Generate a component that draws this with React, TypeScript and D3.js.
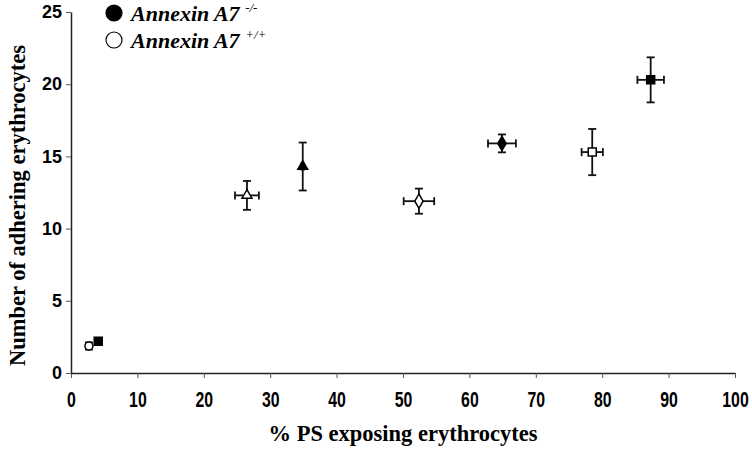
import React, { useEffect, useRef } from 'react';
import * as d3 from 'd3';

// mean % PS exposing, mean adhering count, and their SEMs
const labels = ['c-open', 'sq-fill-lo', 'tri-open', 'tri-fill', 'dia-open', 'dia-fill', 'sq-open', 'sq-fill'];
const xMean = [2.7, 4.1, 26.5, 34.9, 52.4, 64.9, 78.5, 87.3];
const xErr = [0.4, 0.3, 1.8, 0.2, 2.3, 2.1, 1.6, 2.0];
const yMean = [1.87, 2.2, 12.3, 14.3, 11.9, 15.9, 15.3, 20.3];
const yErr = [0.25, 0.2, 1.0, 1.66, 0.87, 0.62, 1.6, 1.56];
const shapes = ['circle', 'square', 'triangle', 'triangle', 'diamond', 'diamond', 'square', 'square'];
const filled = [false, true, false, true, false, true, false, true];

const xTicks = [0, 10, 20, 30, 40, 50, 60, 70, 80, 90, 100];
const yTicks = [0, 5, 10, 15, 20, 25];

const W = 752;
const H = 454;

function App() {
  const ref = useRef<SVGSVGElement>(null);

  useEffect(() => {
    const svg = d3.select(ref.current);
    svg.selectAll('*').remove();

    const x = d3.scaleLinear().domain([0, 100]).range([71, 735]);
    const y = d3.scaleLinear().domain([0, 25]).range([373, 12]);

    // axes
    const xAxis = svg.append('g')
      .attr('transform', `translate(0,${y(0)})`)
      .call(d3.axisBottom(x).tickValues(xTicks).tickSize(5).tickSizeOuter(0).tickPadding(13));
    xAxis.select('.domain').attr('stroke', '#222').attr('stroke-width', 1.5);
    xAxis.selectAll('.tick line').attr('stroke', '#555');
    // condensed look of the original tick labels
    xAxis.selectAll('.tick text')
      .attr('font-family', '"Liberation Sans", Arial, sans-serif')
      .attr('font-weight', 'bold')
      .attr('font-size', 22)
      .attr('transform', 'scale(0.72,1)')
      .attr('fill', '#000');

    const yAxis = svg.append('g')
      .attr('transform', `translate(${x(0)},0)`)
      .call(d3.axisLeft(y).tickValues(yTicks).tickSize(5).tickSizeOuter(0).tickPadding(4));
    yAxis.select('.domain').attr('stroke', '#222').attr('stroke-width', 1.5);
    yAxis.selectAll('.tick line').attr('stroke', '#555');
    yAxis.selectAll('.tick text')
      .attr('font-family', '"Liberation Sans", Arial, sans-serif')
      .attr('font-weight', 'bold')
      .attr('font-size', 18)
      .attr('fill', '#000');

    // axis titles
    svg.append('text')
      .attr('x', (x(0) + x(100)) / 2)
      .attr('y', 441)
      .attr('text-anchor', 'middle')
      .attr('font-family', '"Liberation Serif", "Times New Roman", serif')
      .attr('font-weight', 'bold')
      .attr('font-size', 22.5)
      .text('% PS exposing erythrocytes');

    svg.append('text')
      .attr('transform', `translate(25,${(y(0) + y(25)) / 2 + 13}) rotate(-90)`)
      .attr('text-anchor', 'middle')
      .attr('font-family', '"Liberation Serif", "Times New Roman", serif')
      .attr('font-weight', 'bold')
      .attr('font-size', 22.5)
      .text('Number of adhering erythrocytes');

    // error bars
    const cap = 4;
    const pts = svg.append('g');
    labels.forEach((_, i) => {
      const cx = x(xMean[i]);
      const cy = y(yMean[i]);
      const g = pts.append('g').attr('stroke', '#111').attr('stroke-width', 1.8);
      const y0 = y(yMean[i] - yErr[i]);
      const y1 = y(yMean[i] + yErr[i]);
      const x0 = x(xMean[i] - xErr[i]);
      const x1 = x(xMean[i] + xErr[i]);
      g.append('line').attr('x1', cx).attr('x2', cx).attr('y1', y0).attr('y2', y1);
      g.append('line').attr('x1', cx - cap).attr('x2', cx + cap).attr('y1', y0).attr('y2', y0);
      g.append('line').attr('x1', cx - cap).attr('x2', cx + cap).attr('y1', y1).attr('y2', y1);
      g.append('line').attr('x1', x0).attr('x2', x1).attr('y1', cy).attr('y2', cy);
      g.append('line').attr('x1', x0).attr('x2', x0).attr('y1', cy - cap).attr('y2', cy + cap);
      g.append('line').attr('x1', x1).attr('x2', x1).attr('y1', cy - cap).attr('y2', cy + cap);
    });

    // markers
    const symType: Record<string, d3.SymbolType> = {
      circle: d3.symbolCircle,
      square: d3.symbolSquare,
      triangle: d3.symbolTriangle,
      diamond: d3.symbolDiamond,
    };
    const symSize: Record<string, number> = { circle: 50, square: 64, triangle: 42, diamond: 60 };
    pts.selectAll('path.mark')
      .data(labels.map((_, i) => i))
      .enter()
      .append('path')
      .attr('class', 'mark')
      .attr('transform', i => `translate(${x(xMean[i])},${y(yMean[i])})`)
      .attr('d', i => d3.symbol().type(symType[shapes[i]]).size(symSize[shapes[i]])()!)
      .attr('fill', i => (filled[i] ? '#000' : '#fff'))
      .attr('stroke', '#000')
      .attr('stroke-width', 1.5);

    // legend
    const legend = svg.append('g');
    const legendItems = [
      { fill: '#000', sup: '-/-', y: 19 },
      { fill: '#fff', sup: '+/+', y: 46 },
    ];
    legendItems.forEach(d => {
      legend.append('circle')
        .attr('cx', 114).attr('cy', d.y - 6).attr('r', 8)
        .attr('fill', d.fill).attr('stroke', '#000').attr('stroke-width', 1.2);
      const t = legend.append('text')
        .attr('x', 131).attr('y', d.y + 2)
        .attr('font-family', '"Liberation Serif", "Times New Roman", serif')
        .attr('font-weight', 'bold')
        .attr('font-style', 'italic')
        .attr('font-size', 22);
      t.append('tspan').text('Annexin A7 ');
      t.append('tspan')
        .attr('font-size', 13)
        .attr('font-weight', 'normal')
        .attr('fill', '#000')
        .attr('dy', -9)
        .text(d.sup);
    });
  }, []);

  return (
    <div>
      <svg ref={ref} width={W} height={H} style={{ display: 'block', position: 'absolute', left: 0, top: 0 }} />
    </div>
  );
}

export default App;
